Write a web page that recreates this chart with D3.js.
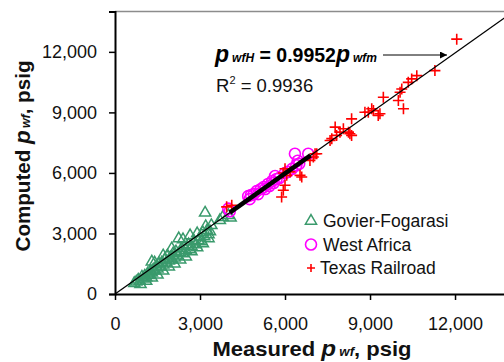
<!DOCTYPE html>
<html>
<head>
<meta charset="utf-8">
<script src="https://cdn.jsdelivr.net/npm/d3@7/dist/d3.min.js"></script>
<style>
  body { margin: 0; background: #fff; }
  text { font-family: "Liberation Sans", Arial, sans-serif; }
</style>
</head>
<body>
<svg id="chart"></svg>
<script>
const xTicks = [0, 3000, 6000, 9000, 12000];
const yTicks = [0, 3000, 6000, 9000, 12000];
const slope = 0.9952;
const r2Label = "0.9936";

// Govier-Fogarasi (measured, computed)
const govier = [
  [680, 530], [750, 600], [820, 700], [880, 640], [900, 480], [950, 850], [1000, 760],
  [1050, 900], [1100, 820], [1100, 640], [1150, 1000], [1200, 930], [1250, 1100],
  [1300, 1050], [1300, 1600], [1300, 800], [1350, 1200], [1400, 1150], [1400, 1550],
  [1450, 1350], [1500, 1250], [1500, 950], [1550, 1500], [1600, 1350], [1650, 1550],
  [1700, 1450], [1700, 1150], [1700, 1900], [1750, 1700], [1800, 1550], [1850, 1900],
  [1900, 1650], [1900, 1350], [1950, 1800], [2000, 1700], [2000, 2250], [2050, 2000],
  [2100, 1800], [2100, 1500], [2150, 2100], [2200, 1900], [2250, 2750], [2300, 2050],
  [2300, 1700], [2350, 2250], [2400, 2000], [2400, 2700], [2450, 2350], [2500, 2150],
  [2500, 1850], [2600, 2450], [2650, 2200], [2650, 2900], [2700, 2350], [2700, 2100],
  [2800, 2600], [2850, 2450], [2900, 3000], [2900, 2300], [2950, 2650], [3000, 2800],
  [3050, 2600], [3100, 3050], [3100, 2500], [3150, 2850], [3200, 3350], [3250, 3150],
  [3300, 2950], [3300, 2750], [3400, 3400], [3350, 3100], [3180, 4020], [3700, 3650],
  [3800, 3800], [4000, 3900], [4080, 3780]
];

// West Africa
const westAfrica = [
  [4000, 4230], [4050, 4100], [4700, 4850], [4750, 4700], [4800, 4900], [4900, 4950],
  [5000, 5100], [5050, 4950], [5150, 5200], [5250, 5300], [5300, 5200], [5400, 5450],
  [5450, 5350], [5550, 5600], [5600, 5500], [5650, 5850], [5700, 5700], [5800, 5750],
  [6000, 6000], [6100, 6050], [6250, 6200], [6350, 6950], [6400, 6380], [6450, 6600],
  [6500, 6450], [6820, 6950]
];

// Texas Railroad
const texas = [
  [3940, 4320], [4120, 4400], [5880, 4810], [5940, 5140], [6000, 5390], [5940, 6000],
  [6000, 6210], [6060, 5880], [6180, 6050], [6530, 5880], [6590, 5800], [6880, 6620],
  [7000, 6790], [7060, 6950], [7120, 6950], [7590, 7610], [7650, 7700], [7770, 8270],
  [7820, 7860], [7940, 8020], [8060, 8190], [8240, 8020], [8290, 7940], [8350, 7860],
  [8350, 8680], [8820, 9010], [8940, 9010], [9060, 9180], [9120, 9090], [9290, 8850],
  [9350, 8930], [9470, 9750], [10000, 9590], [10060, 10000], [10120, 10160], [10180, 9180],
  [10350, 10490], [10470, 10660], [10650, 10820], [11290, 11070], [12060, 12630]
];

const width = 504, height = 362;
const svg = d3.select("#chart").attr("width", width).attr("height", height);

const x = d3.scaleLinear().domain([0, 14000]).range([115, 511.7]);
const y = d3.scaleLinear().domain([0, 14000]).range([294, 11.5]);

const fmt = d3.format(",");

// clip for plot area
svg.append("clipPath").attr("id", "plot")
  .append("rect").attr("x", x(0)).attr("y", y(14000))
  .attr("width", x(14000) - x(0)).attr("height", y(0) - y(14000));

// top border
svg.append("line")
  .attr("x1", x(0)).attr("x2", width).attr("y1", y(14000)).attr("y2", y(14000))
  .attr("stroke", "#8c8c8c").attr("stroke-width", 1.5);

// axes
const gx = svg.append("g").attr("transform", `translate(0,${y(0)})`)
  .call(d3.axisBottom(x).tickValues(xTicks).tickFormat(fmt).tickSize(6).tickPadding(17));
const gy = svg.append("g").attr("transform", `translate(${x(0)},0)`)
  .call(d3.axisLeft(y).tickValues(yTicks).tickFormat(fmt).tickSize(6).tickPadding(12));

[gx, gy].forEach(g => {
  g.select(".domain").attr("stroke", "#000").attr("stroke-width", 2);
  g.selectAll(".tick line").attr("stroke", "#000").attr("stroke-width", 1.5);
  g.selectAll(".tick text").attr("font-size", 18).attr("fill", "#111")
    .style("font-family", "'Liberation Sans', Arial, sans-serif");
});
gx.select(".domain").attr("d", `M${x(0)},0.5H${width}`);
gx.selectAll(".tick text").attr("dy", "0.71em");

const plot = svg.append("g").attr("clip-path", "url(#plot)");

// markers
const green = "#3a9a6c", magenta = "#ff00ff", red = "#ff0000";
const tri = d3.symbol().type(d3.symbolTriangle).size(54);

plot.selectAll(".gf").data(govier).join("path")
  .attr("class", "gf")
  .attr("d", tri)
  .attr("transform", d => `translate(${x(d[0])},${y(d[1])})`)
  .attr("fill", "none").attr("stroke", green).attr("stroke-width", 1.5);

plot.selectAll(".wa").data(westAfrica).join("circle")
  .attr("class", "wa")
  .attr("cx", d => x(d[0])).attr("cy", d => y(d[1])).attr("r", 5.5)
  .attr("fill", "none").attr("stroke", magenta).attr("stroke-width", 1.6);

plot.selectAll(".tx").data(texas).join("path")
  .attr("class", "tx")
  .attr("d", "M-5.5,0H5.5M0,-5.5V5.5")
  .attr("transform", d => `translate(${x(d[0])},${y(d[1])})`)
  .attr("stroke", red).attr("stroke-width", 1.6).attr("fill", "none");

// trend line
plot.append("line")
  .attr("x1", x(0)).attr("y1", y(0))
  .attr("x2", x(14000)).attr("y2", y(14000 * slope))
  .attr("stroke", "#000").attr("stroke-width", 1.3);

// thick band over dense region
plot.append("line")
  .attr("x1", x(4050)).attr("y1", y(4050 * slope))
  .attr("x2", x(6900)).attr("y2", y(6900 * slope))
  .attr("stroke", "#000").attr("stroke-width", 4.5);

// annotation
const defs = svg.append("defs");
defs.append("marker").attr("id", "ah")
  .attr("viewBox", "0 0 10 10").attr("refX", 10).attr("refY", 5)
  .attr("markerWidth", 9).attr("markerHeight", 7).attr("markerUnits", "userSpaceOnUse")
  .attr("orient", "auto")
  .append("path").attr("d", "M0,0L10,5L0,10z").attr("fill", "#000");

const eq = svg.append("text").attr("x", 215).attr("y", 62)
  .attr("font-weight", "bold").attr("font-size", 19.5).attr("fill", "#000");
eq.append("tspan").attr("font-style", "italic").attr("font-size", 23).text("p");
eq.append("tspan").attr("font-style", "italic").attr("font-size", 12).attr("dx", 3).text("wfH");
eq.append("tspan").text(" = 0.9952");
eq.append("tspan").attr("font-style", "italic").attr("font-size", 23).text("p");
eq.append("tspan").attr("font-style", "italic").attr("font-size", 12).attr("dx", 3).text("wfm");

svg.append("line")
  .attr("x1", 383).attr("y1", 55).attr("x2", 447).attr("y2", 55)
  .attr("stroke", "#000").attr("stroke-width", 1)
  .attr("marker-end", "url(#ah)");

const r2 = svg.append("text").attr("x", 216).attr("y", 92)
  .attr("font-size", 18.5).attr("fill", "#111");
r2.append("tspan").text("R");
r2.append("tspan").attr("font-size", 11).attr("dy", -8).text("2");
r2.append("tspan").attr("dy", 8).text(" = " + r2Label);

// legend
const legend = [
  { name: "Govier-Fogarasi", kind: "tri", color: green },
  { name: "West Africa", kind: "circ", color: magenta },
  { name: "Texas Railroad", kind: "plus", color: red }
];
const lg = svg.append("g");
legend.forEach((d, i) => {
  const cy = 221 + i * 23.5;
  const g = lg.append("g").attr("transform", `translate(311,${cy})`);
  if (d.kind === "tri") {
    g.append("path").attr("d", tri).attr("fill", "none").attr("stroke", d.color).attr("stroke-width", 1.5);
  } else if (d.kind === "circ") {
    g.append("circle").attr("r", 5.5).attr("fill", "none").attr("stroke", d.color).attr("stroke-width", 1.6);
  } else {
    g.append("path").attr("d", "M-4,0H4M0,-4V4").attr("stroke", d.color).attr("stroke-width", 1.6);
  }
  lg.append("text").attr("x", d.kind === "plus" ? 320 : 323).attr("y", cy + 6)
    .attr("font-size", 17.5).attr("fill", "#111").text(d.name);
});

// axis titles
const xt = svg.append("text").attr("transform", "translate(312,356) scale(1.1,1)")
  .attr("text-anchor", "middle").attr("font-weight", "bold").attr("font-size", 20).attr("fill", "#111");
xt.append("tspan").text("Measured ");
xt.append("tspan").attr("font-style", "italic").attr("font-size", 22).text("p");
xt.append("tspan").attr("font-style", "italic").attr("font-size", 12).attr("dx", 3).text("wf");
xt.append("tspan").text(",  psig");

const yt = svg.append("text").attr("transform", "translate(30,156) rotate(-90) scale(1.03,1)")
  .attr("text-anchor", "middle").attr("font-weight", "bold").attr("font-size", 20).attr("fill", "#111");
yt.append("tspan").text("Computed ");
yt.append("tspan").attr("font-style", "italic").attr("font-size", 22).text("p");
yt.append("tspan").attr("font-style", "italic").attr("font-size", 12).attr("dx", 2).text("wf");
yt.append("tspan").text(",  psig");
</script>
</body>
</html>
